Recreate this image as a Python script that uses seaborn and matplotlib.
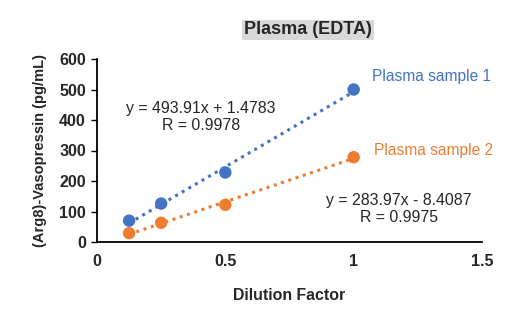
import matplotlib
matplotlib.use("Agg")
import matplotlib.pyplot as plt
import seaborn as sns
import pandas as pd

dilution = [0.125, 0.25, 0.5, 1.0]
sample1 = [70, 126, 228, 500]
sample2 = [29, 63, 122, 278]
series_names = ["Plasma sample 1", "Plasma sample 2"]
eq1 = "y = 493.91x + 1.4783\nR = 0.9978"
eq2 = "y = 283.97x - 8.4087\nR = 0.9975"
title = "Plasma (EDTA)"
xlabel = "Dilution Factor"
ylabel = "(Arg8)-Vasopressin (pg/mL)"
xticks = [0, 0.5, 1, 1.5]
yticks = [0, 100, 200, 300, 400, 500, 600]

sns.set_style("white")
plt.rcParams['font.family'] = ['Liberation Sans', 'DejaVu Sans']

blue = "#4472C4"
orange = "#ED7D31"

df1 = pd.DataFrame({"x": dilution, "y": sample1})
df2 = pd.DataFrame({"x": dilution, "y": sample2})

fig = plt.figure(figsize=(5.2, 3.25), dpi=100)
ax = fig.add_axes([97/520, 1-242/325, (482-97)/520, (242-59)/325])

for df, col in [(df1, blue), (df2, orange)]:
    sns.regplot(data=df, x="x", y="y", ax=ax, ci=None, color=col,
                scatter_kws=dict(s=80, alpha=1, edgecolor='none', zorder=3),
                line_kws=dict(linestyle=(0, (1, 1.5)), linewidth=2.2, zorder=2))

ax.set_xlim(0, 1.5)
ax.set_ylim(0, 600)
ax.set_xticks(xticks)
ax.set_xticklabels(["0", "0.5", "1", "1.5"])
ax.set_yticks(yticks)
for lab in ax.get_xticklabels() + ax.get_yticklabels():
    lab.set_fontweight('bold')
    lab.set_fontsize(11.5)
ax.tick_params(axis='x', length=0, pad=9)
ax.tick_params(axis='y', length=4, width=1, pad=4, direction='out', left=True, color='black')
for s in ['top', 'right']:
    ax.spines[s].set_visible(False)
for s in ['left', 'bottom']:
    ax.spines[s].set_color('black')
    ax.spines[s].set_linewidth(1.3)

ax.set_xlabel(xlabel, fontsize=11.4, fontweight='bold', labelpad=13)
ax.set_ylabel(ylabel, fontsize=10.5, fontweight='bold', labelpad=9)

fig.text(308/520, 1-30/325, title, ha='center', va='center', fontsize=13,
         fontweight='bold', bbox=dict(facecolor='#D9D9D9', edgecolor='none', pad=1.2))

fig.text(372/520, 1-77/325, series_names[0], ha='left', va='center', fontsize=11.2, color=blue)
fig.text(374/520, 1-151/325, series_names[1], ha='left', va='center', fontsize=11.2, color=orange)
fig.text(201/520, 1-117/325, eq1, ha='center', va='center', fontsize=11.4, linespacing=1.1)
fig.text(399/520, 1-209/325, eq2, ha='center', va='center', fontsize=11.4, linespacing=1.1)

fig.savefig("out.png", dpi=100)
